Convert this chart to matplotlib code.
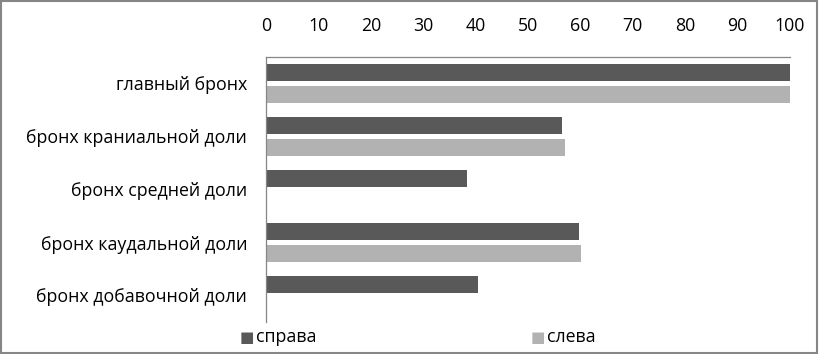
import matplotlib
matplotlib.use("Agg")
import matplotlib.pyplot as plt
import numpy as np

categories = ["главный бронх", "бронх краниальной доли", "бронх средней доли",
              "бронх каудальной доли", "бронх добавочной доли"]
right_vals = [100, 56.5, 38.4, 59.8, 40.4]
left_vals = [100, 57.1, 0, 60.2, 0]
series_names = ["справа", "слева"]

DARK = "#595959"
LIGHT = "#b2b2b2"

plt.rcParams["font.family"] = ["Open Sans", "DejaVu Sans"]

fig = plt.figure(figsize=(8.19, 3.54), dpi=100)
ax = fig.add_axes([266 / 819, 1 - 322 / 354, 524 / 819, 265 / 354])

y = np.arange(len(categories))
h = 0.33
ax.barh(y - 0.208, right_vals, height=h, color=DARK)
ax.barh(y + 0.208, [v if v else np.nan for v in left_vals], height=h, color=LIGHT)

ax.set_xlim(0, 100)
ax.set_ylim(len(categories) - 0.5, -0.5)
ax.set_xticks(range(0, 101, 10))
ax.xaxis.tick_top()
ax.set_yticks(y)
ax.set_yticklabels(categories)
ax.tick_params(axis="both", length=0, labelsize=12.8, colors="black")
ax.tick_params(axis="x", pad=16)
ax.tick_params(axis="y", pad=13.5)
for s in ["right", "bottom"]:
    ax.spines[s].set_visible(False)
for s in ["left", "top"]:
    ax.spines[s].set_color("#868686")
    ax.spines[s].set_linewidth(0.9)

# legend drawn as figure text with square markers
ly = 1 - 337 / 354
fig.text(240 / 819, ly, "■", color=DARK, fontsize=11, va="center", ha="left",
         family="DejaVu Sans")
fig.text(256 / 819, ly, series_names[0], fontsize=12.8, va="center", ha="left")
fig.text(531 / 819, ly, "■", color=LIGHT, fontsize=11, va="center", ha="left",
         family="DejaVu Sans")
fig.text(547 / 819, ly, series_names[1], fontsize=12.8, va="center", ha="left")

# outer frame
fig.patches.append(plt.Rectangle((0.001, 0.002), 0.997, 0.995, transform=fig.transFigure,
                                 fill=False, edgecolor="#868686", linewidth=1.5))

fig.savefig("out.png", dpi=100)
